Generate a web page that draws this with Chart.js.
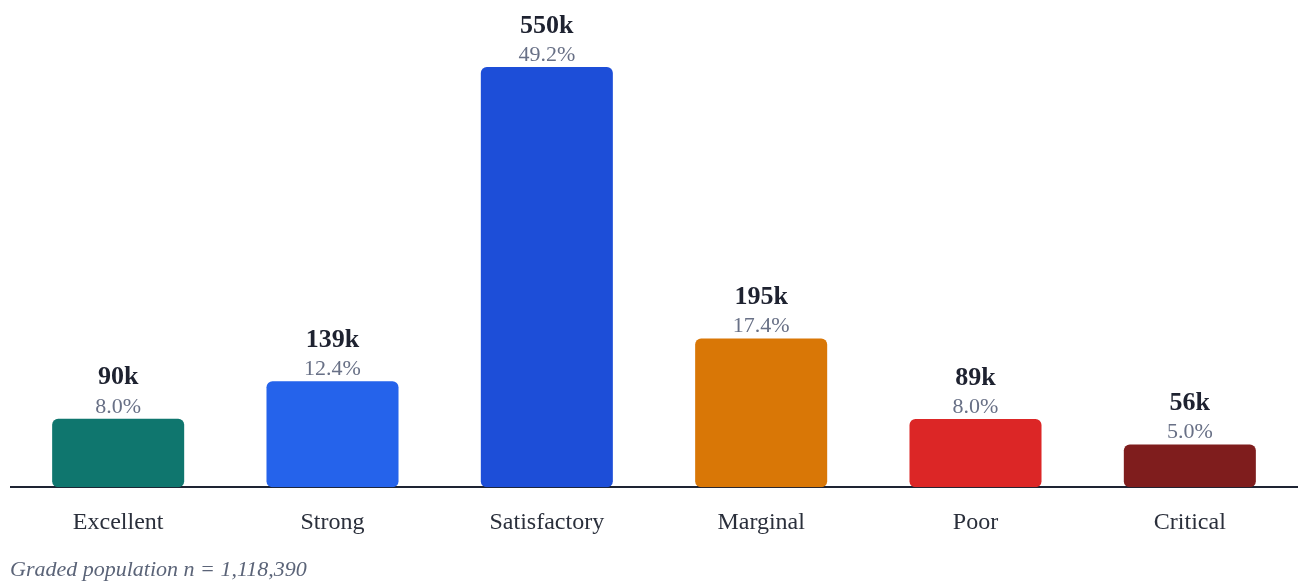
<!DOCTYPE html>
<html>
<head>
<meta charset="utf-8">
<script src="https://cdn.jsdelivr.net/npm/chart.js@4/dist/chart.umd.min.js"></script>
<style>
  html, body { margin: 0; padding: 0; background: #fff; }
  #wrap { position: relative; width: 1299px; height: 581px; }
  #note {
    position: absolute; left: 10px; top: 556px;
    font: italic 22px "Liberation Serif", "DejaVu Serif", serif;
    color: #5b6478;
  }
</style>
</head>
<body>
<div id="wrap">
  <canvas id="grades" width="1299" height="560"></canvas>
  <div id="note"></div>
</div>
<script>
// grade distribution
var grades = ['Excellent', 'Strong', 'Satisfactory', 'Marginal', 'Poor', 'Critical'];
var counts = [89600, 138700, 550200, 194600, 89400, 55890];
var barColors = ['#0f766e', '#2563eb', '#1d4ed8', '#d97706', '#dc2626', '#7f1d1d'];

var total = counts.reduce(function (a, b) { return a + b; }, 0);
var serif = '"Liberation Serif", "DejaVu Serif", serif';

document.getElementById('note').textContent =
  'Graded population n = ' + total.toLocaleString('en-US');

// count + share above each bar
var barLabels = {
  id: 'barLabels',
  afterDatasetsDraw: function (chart) {
    var ctx = chart.ctx;
    var meta = chart.getDatasetMeta(0);
    ctx.save();
    ctx.textAlign = 'center';
    ctx.textBaseline = 'middle';
    meta.data.forEach(function (bar, i) {
      var v = counts[i];
      ctx.font = 'bold 26px ' + serif;
      ctx.fillStyle = '#1e2230';
      ctx.fillText(Math.round(v / 1000) + 'k', bar.x, bar.y - 41);
      ctx.font = '22px ' + serif;
      ctx.fillStyle = '#687086';
      ctx.fillText((v / total * 100).toFixed(1) + '%', bar.x, bar.y - 12);
    });
    ctx.restore();
  }
};

new Chart(document.getElementById('grades'), {
  type: 'bar',
  data: {
    labels: grades,
    datasets: [{
      data: counts,
      backgroundColor: barColors,
      borderRadius: 6,
      borderSkipped: false,
      barPercentage: 1,
      categoryPercentage: 0.616
    }]
  },
  options: {
    responsive: false,
    animation: false,
    layout: { padding: { top: 67, left: 11, right: 2, bottom: 10 } },
    plugins: { legend: { display: false }, tooltip: { enabled: false } },
    scales: {
      x: {
        grid: { display: false },
        border: { display: true, color: '#1e2433', width: 2 },
        ticks: { color: '#2a2f3b', font: { family: serif, size: 24 }, padding: 13 }
      },
      y: {
        display: false,
        min: 0,
        max: Math.max.apply(null, counts)
      }
    }
  },
  plugins: [barLabels]
});
</script>
</body>
</html>
